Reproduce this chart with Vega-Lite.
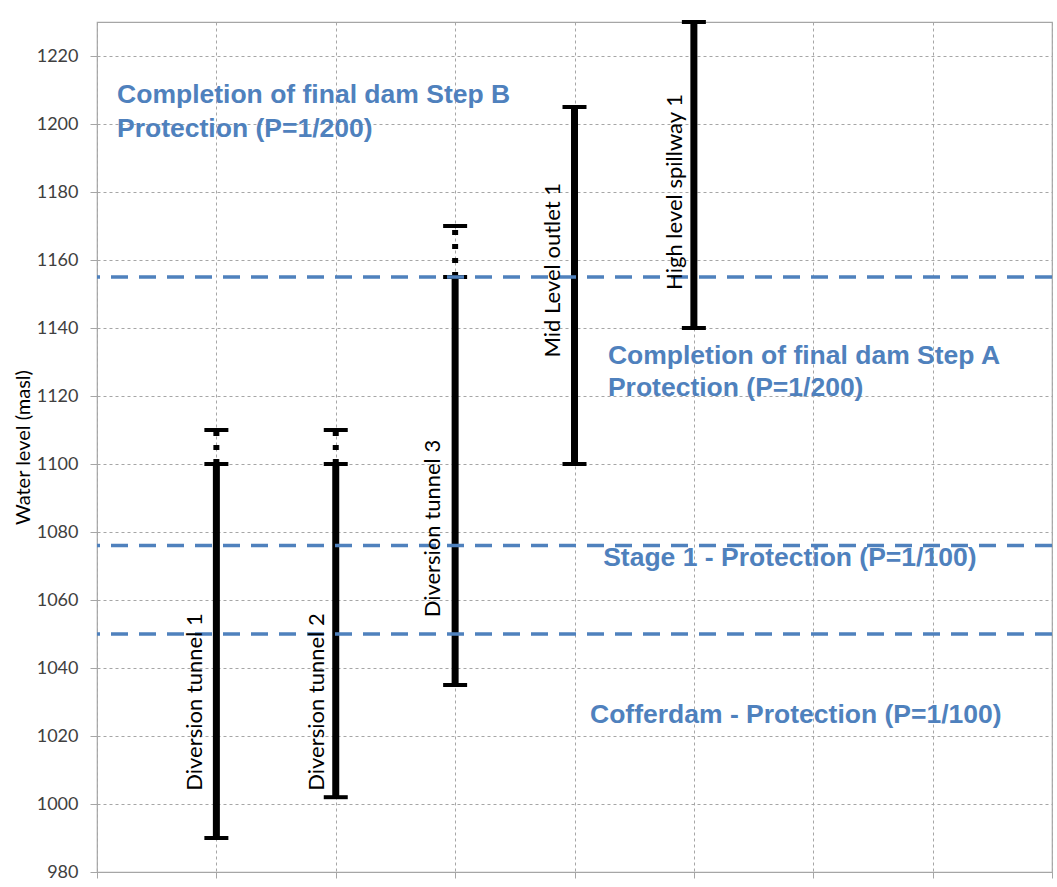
{
  "$schema": "https://vega.github.io/schema/vega-lite/v6.json",
  "width": 955,
  "height": 850,
  "autosize": {"type": "none"},
  "padding": {"left": 97, "top": 22, "right": 5, "bottom": 15},
  "background": "#ffffff",
  "config": {
    "view": {"stroke": "#a6a6a6", "strokeWidth": 1.2},
    "axis": {"gridColor": "#a6a6a6", "gridDash": [3, 3], "gridWidth": 1, "tickColor": "#a6a6a6", "domain": false}
  },
  "datasets": {
    "levels": [
      {"level": "Completion of final dam Step A", "y": 1155},
      {"level": "Stage 1", "y": 1076},
      {"level": "Cofferdam", "y": 1050}
    ],
    "bars": [
      {"name": "Diversion tunnel 1", "x": 1, "low": 990, "high": 1100, "ext": 1110},
      {"name": "Diversion tunnel 2", "x": 2, "low": 1002, "high": 1100, "ext": 1110},
      {"name": "Diversion tunnel 3", "x": 3, "low": 1035, "high": 1155, "ext": 1170},
      {"name": "Mid Level outlet 1", "x": 4, "low": 1100, "high": 1205, "ext": null},
      {"name": "High level spillway 1", "x": 5, "low": 1140, "high": 1230, "ext": null}
    ],
    "barLabels": [
      {"label": "Diversion tunnel 1", "lx": 0.825, "ly": 1030},
      {"label": "Diversion tunnel 2", "lx": 1.84, "ly": 1030},
      {"label": "Diversion tunnel 3", "lx": 2.815, "ly": 1081},
      {"label": "Mid Level outlet  1", "lx": 3.82, "ly": 1157},
      {"label": "High level spillway 1", "lx": 4.84, "ly": 1180}
    ],
    "notes": [
      {"text": "Completion of final dam Step B", "nx": 0.168, "ny": 1206.3},
      {"text": "Protection (P=1/200)", "nx": 0.168, "ny": 1196.3},
      {"text": "Completion of final dam Step A", "nx": 4.28, "ny": 1129.5},
      {"text": "Protection (P=1/200)", "nx": 4.28, "ny": 1120},
      {"text": "Stage 1 - Protection (P=1/100)", "nx": 4.24, "ny": 1070},
      {"text": "Cofferdam - Protection (P=1/100)", "nx": 4.13, "ny": 1023.9}
    ]
  },
  "layer": [
    {
      "data": {"name": "bars"},
      "mark": {"type": "rule", "color": "#000000", "strokeWidth": 6, "strokeDash": [5, 9]},
      "encoding": {
        "x": {
          "field": "x", "type": "quantitative",
          "scale": {"domain": [0, 8], "nice": false, "zero": false},
          "axis": {"values": [0, 1, 2, 3, 4, 5, 6, 7, 8], "labels": false, "ticks": true, "tickSize": 6, "title": null, "grid": true}
        },
        "y": {
          "field": "high", "type": "quantitative",
          "scale": {"domain": [980, 1230], "nice": false, "zero": false},
          "axis": {
            "values": [980, 1000, 1020, 1040, 1060, 1080, 1100, 1120, 1140, 1160, 1180, 1200, 1220],
            "format": "d",
            "title": "Water level (masl)",
            "titleFont": "Lato", "titleFontSize": 20, "titleFontWeight": "normal", "titleColor": "#000000", "titlePadding": 3,
            "labelFont": "Lato", "labelFontSize": 18, "labelColor": "#404040", "labelPadding": 12,
            "tickSize": 7, "grid": true
          }
        },
        "y2": {"field": "ext"}
      }
    },
    {
      "data": {"name": "bars"},
      "mark": {"type": "rule", "color": "#000000", "strokeWidth": 7},
      "encoding": {
        "x": {"field": "x", "type": "quantitative"},
        "y": {"field": "low", "type": "quantitative"},
        "y2": {"field": "high"}
      }
    },
    {
      "data": {"name": "bars"},
      "transform": [
        {"fold": ["low", "high", "ext"], "as": ["end", "capValue"]},
        {"filter": "isValid(datum.capValue)"}
      ],
      "mark": {"type": "tick", "orient": "horizontal", "color": "#000000", "size": 24, "thickness": 4, "opacity": 1},
      "encoding": {
        "x": {"field": "x", "type": "quantitative"},
        "y": {"field": "capValue", "type": "quantitative"}
      }
    },
    {
      "data": {"name": "levels"},
      "mark": {"type": "rule", "color": "#4F81BD", "strokeWidth": 3.5, "strokeDash": [17, 11]},
      "encoding": {
        "y": {"field": "y", "type": "quantitative"}
      }
    },
    {
      "data": {"name": "barLabels"},
      "mark": {"type": "text", "angle": 270, "align": "center", "baseline": "middle", "font": "Lato", "fontSize": 22, "color": "#000000"},
      "encoding": {
        "x": {"field": "lx", "type": "quantitative"},
        "y": {"field": "ly", "type": "quantitative"},
        "text": {"field": "label"}
      }
    },
    {
      "data": {"name": "notes"},
      "mark": {"type": "text", "align": "left", "baseline": "alphabetic", "font": "Liberation Sans", "fontWeight": "bold", "fontSize": 26.5, "color": "#4F81BD"},
      "encoding": {
        "x": {"field": "nx", "type": "quantitative"},
        "y": {"field": "ny", "type": "quantitative"},
        "text": {"field": "text"}
      }
    }
  ]
}
